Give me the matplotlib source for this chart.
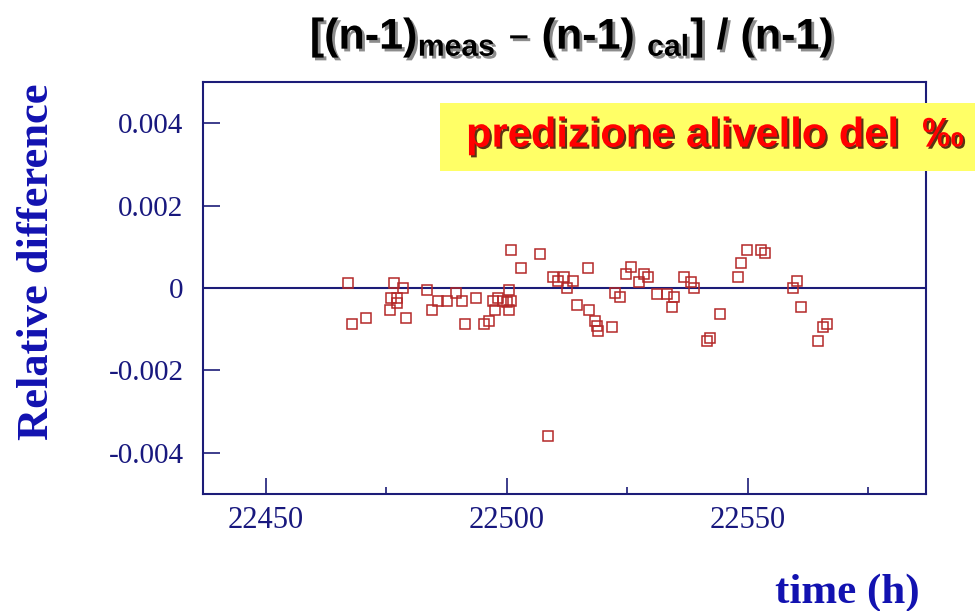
import matplotlib
matplotlib.use('Agg')
import matplotlib.pyplot as plt
import matplotlib.patheffects as pe
from matplotlib import font_manager
from matplotlib.patches import Rectangle

# elapsed time (h) and relative difference of measured vs calibrated (n-1)
time_h = [
    22467.1, 22468.0, 22470.9, 22476.7, 22478.4, 22476.1, 22477.3, 22477.3,
    22475.9, 22479.2, 22483.4, 22485.7, 22487.7, 22489.4, 22490.7, 22484.6,
    22493.6, 22491.3, 22495.2, 22496.3, 22497.1, 22498.2, 22497.5, 22499.2,
    22500.0, 22500.9, 22500.5, 22500.5, 22500.9, 22503.0, 22506.9, 22508.6,
    22509.6, 22510.7, 22511.9, 22512.5, 22513.8, 22514.6, 22516.9, 22517.1,
    22518.4, 22518.8, 22519.0, 22521.9, 22525.7, 22524.8, 22522.5, 22523.6,
    22528.4, 22529.4, 22527.5, 22531.3, 22533.2, 22534.8, 22534.4, 22536.7,
    22538.2, 22538.8, 22544.2, 22542.1, 22541.5, 22548.0, 22548.6, 22549.8,
    22552.7, 22553.6, 22559.4, 22560.2, 22561.1, 22566.5, 22565.7, 22564.6,
]
rel_diff = [
    0.00012, -0.00087, -0.00073, 0.00012, 0.00000, -0.00024, -0.00024, -0.00036,
    -0.00053, -0.00073, -0.00005, -0.00032, -0.00032, -0.00012, -0.00032, -0.00053,
    -0.00024, -0.00087, -0.00087, -0.00080, -0.00032, -0.00024, -0.00053, -0.00032,
    -0.00034, -0.00032, -0.00053, -0.00005, 0.00092, 0.00048, 0.00082, -0.00359,
    0.00027, 0.00017, 0.00027, 0.00000, 0.00017, -0.00041, 0.00048, -0.00053,
    -0.00080, -0.00092, -0.00104, -0.00095, 0.00051, 0.00034, -0.00012, -0.00022,
    0.00034, 0.00027, 0.00015, -0.00015, -0.00015, -0.00022, -0.00046, 0.00027,
    0.00015, 0.00000, -0.00063, -0.00121, -0.00128, 0.00027, 0.00061, 0.00092,
    0.00092, 0.00085, 0.00000, 0.00017, -0.00046, -0.00087, -0.00095, -0.00128,
]

x_ticks = [22450, 22500, 22550]
x_minor = [22475, 22525, 22575]
y_ticks = [-0.004, -0.002, 0, 0.002, 0.004]
y_tick_labels = ['-0.004', '-0.002', '0', '0.002', '0.004']

NAVY = '#1c1c78'
TICKLAB = '#18187e'
BLUE = '#1212b0'
MARK = '#b42828'

installed = {f.name for f in font_manager.fontManager.ttflist}
sans = 'Liberation Sans Narrow' if 'Liberation Sans Narrow' in installed else 'Liberation Sans'
serif = 'Liberation Serif'

fig = plt.figure(figsize=(9.75, 6.11), dpi=100)
ax = fig.add_axes([0.2082, 0.1915, 0.7415, 0.6743])

ax.plot(time_h, rel_diff, ls='none', marker='s', ms=7, mfc='none',
        mec=MARK, mew=1.1, zorder=3)
ax.axhline(0, color=NAVY, lw=1.5, zorder=2)

ax.set_xlim(22437, 22587)
ax.set_ylim(-0.005, 0.005)
ax.set_xticks(x_ticks)
ax.set_xticklabels([str(t) for t in x_ticks])
ax.set_xticks(x_minor, minor=True)
ax.set_yticks(y_ticks)
ax.set_yticklabels(y_tick_labels)

for s in ax.spines.values():
    s.set_color(NAVY)
    s.set_linewidth(1.5)

ax.tick_params(axis='x', which='major', direction='in', length=11.5, width=1.2,
               color=NAVY, pad=8.5, labelsize=22, labelcolor=TICKLAB)
ax.tick_params(axis='x', which='minor', direction='in', length=5, width=1.2,
               color=NAVY)
ax.tick_params(axis='y', which='major', direction='in', length=12, width=1.2,
               color=NAVY, pad=14, labelsize=21, labelcolor=TICKLAB)
for lab in ax.get_xticklabels() + ax.get_yticklabels():
    lab.set_family(serif)

# axis titles sit outside the axes, placed in figure coords
fig.text(0.038, 0.571, 'Relative difference', rotation=90, ha='center',
         va='center', family=serif, weight='bold', fontsize=32, color=BLUE)
fig.text(0.9436, 0.013, 'time (h)', ha='right', va='baseline',
         family=serif, weight='bold', fontsize=31, color=BLUE)

fig.text(0.586, 0.938,
         '[(n-1)$_\\mathregular{meas}$ \u2013 (n-1) $_\\mathregular{cal}$] / (n-1)',
         ha='center', va='center', family=sans, weight='bold', fontsize=31,
         color='black',
         path_effects=[pe.withSimplePatchShadow(offset=(2, -2),
                                                shadow_rgbFace='#8c8c8c',
                                                alpha=1.0)])

# yellow call-out box
fig.add_artist(Rectangle((0.451, 0.7203), 0.549, 0.1112,
                         transform=fig.transFigure, fc='#ffff66', ec='none'))
fig.text(0.478, 0.778, 'predizione alivello del  \u2030', ha='left', va='center',
         family=sans, weight='bold', fontsize=30, color='#ff0000',
         path_effects=[pe.withSimplePatchShadow(offset=(1.5, -1.5),
                                                shadow_rgbFace='#300000',
                                                alpha=0.8)])

fig.savefig('out.png', dpi=100)
